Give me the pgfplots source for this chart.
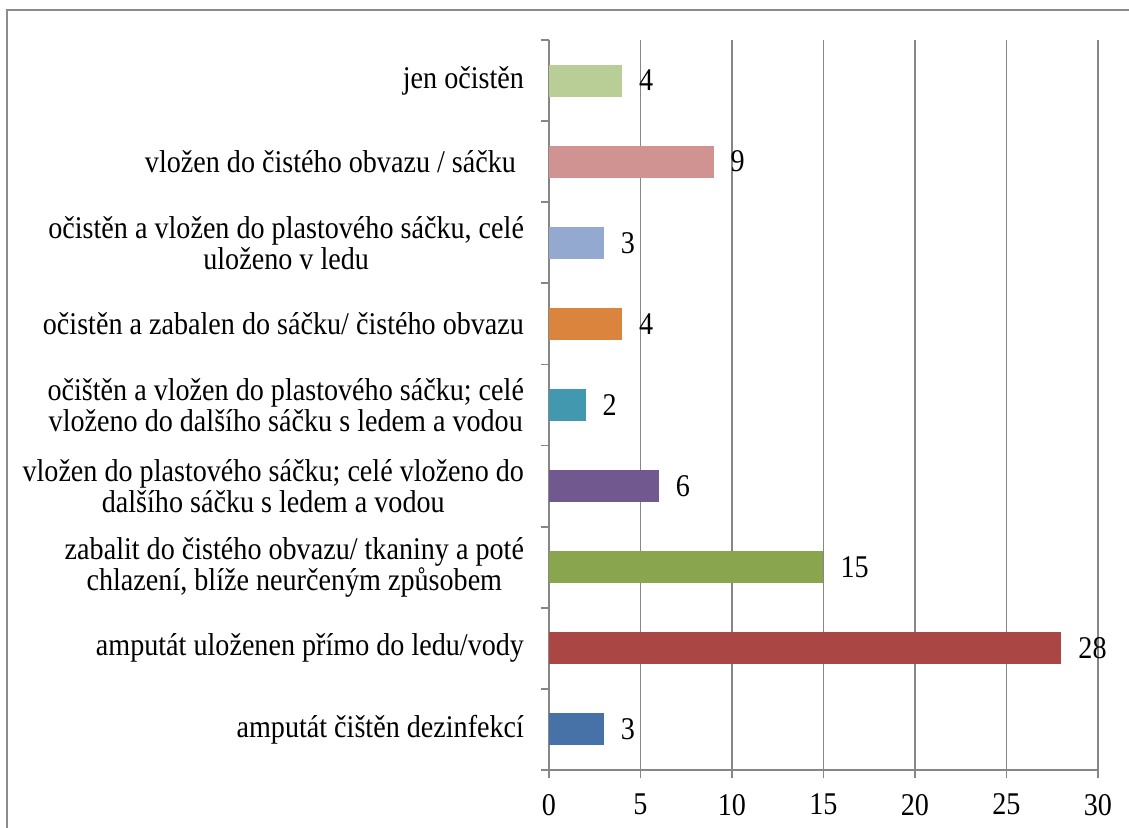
\documentclass[border=0pt]{standalone}
\usepackage{fontspec}
\setmainfont[FakeStretch=0.89]{Liberation Serif}
\usepackage{pgfplots}
\pgfplotsset{compat=1.18}

\definecolor{gridgray}{HTML}{868686}
\definecolor{frame}{HTML}{8C8C8C}
\definecolor{cA}{HTML}{4672A8}
\definecolor{cB}{HTML}{AA4643}
\definecolor{cC}{HTML}{89A54E}
\definecolor{cD}{HTML}{71588F}
\definecolor{cE}{HTML}{4198AF}
\definecolor{cF}{HTML}{DB843D}
\definecolor{cG}{HTML}{93A9CF}
\definecolor{cH}{HTML}{D19392}
\definecolor{cI}{HTML}{B9CD96}

\newcommand{\lbl}{\fontsize{15.8bp}{15.6bp}\selectfont}

\begin{document}
\begin{tikzpicture}
\begin{axis}[
  at={(0,0)}, anchor=south west,
  scale only axis,
  width=274.5bp, height=365bp,
  xbar, bar width=16bp, bar shift=0pt,
  xmin=0, xmax=30, ymin=-0.5, ymax=8.5,
  enlargelimits=false,
  xtick={0,5,...,30},
  ytick={0,...,8},
  minor ytick={-0.5,0.5,...,8.5},
  yticklabels={
    {amputát čištěn dezinfekcí},
    {amputát uloženen přímo do ledu/vody},
    {zabalit do čistého obvazu/ tkaniny a poté\\chlazení, blíže neurčeným způsobem},
    {vložen do plastového sáčku; celé vloženo do\\dalšího sáčku s ledem a vodou},
    {očištěn a vložen do plastového sáčku; celé\\vloženo do dalšího sáčku s ledem a vodou},
    {očistěn a zabalen do sáčku/ čistého obvazu},
    {očistěn a vložen do plastového sáčku, celé\\uloženo v ledu},
    {vložen do čistého obvazu / sáčku\hspace*{4bp}},
    {jen očistěn}},
  axis x line*=bottom, axis y line*=left,
  axis line style={gridgray, line width=0.9bp},
  xmajorgrids, major grid style={gridgray, line width=0.9bp},
  tick align=outside,
  major tick length=4bp, minor tick length=4bp,
  major y tick style={draw=none},
  minor y tick style={gridgray, line width=0.9bp},
  major x tick style={gridgray, line width=0.9bp},
  /pgf/number format/assume math mode=true,
  tick label style={font=\lbl, text=black},
  yticklabel style={align=center, anchor=east, xshift=-5bp},
  xticklabel style={anchor=north, yshift=-4.5bp},
  nodes near coords,
  nodes near coords style={font=\lbl, text=black, anchor=west, xshift=5bp},
  every axis plot/.append style={draw=none},
]
\addplot[fill=cA] coordinates {(3,0)};
\addplot[fill=cB] coordinates {(28,1)};
\addplot[fill=cC] coordinates {(15,2)};
\addplot[fill=cD] coordinates {(6,3)};
\addplot[fill=cE] coordinates {(2,4)};
\addplot[fill=cF] coordinates {(4,5)};
\addplot[fill=cG] coordinates {(3,6)};
\addplot[fill=cH] coordinates {(9,7)};
\addplot[fill=cI] coordinates {(4,8)};
\end{axis}
\draw[frame, line width=1bp] (-271bp,-40bp) |- (300bp,380bp);
\pgfresetboundingbox
\useasboundingbox (-274.5bp,-29bp) rectangle (290bp,385bp);
\end{tikzpicture}
\end{document}
